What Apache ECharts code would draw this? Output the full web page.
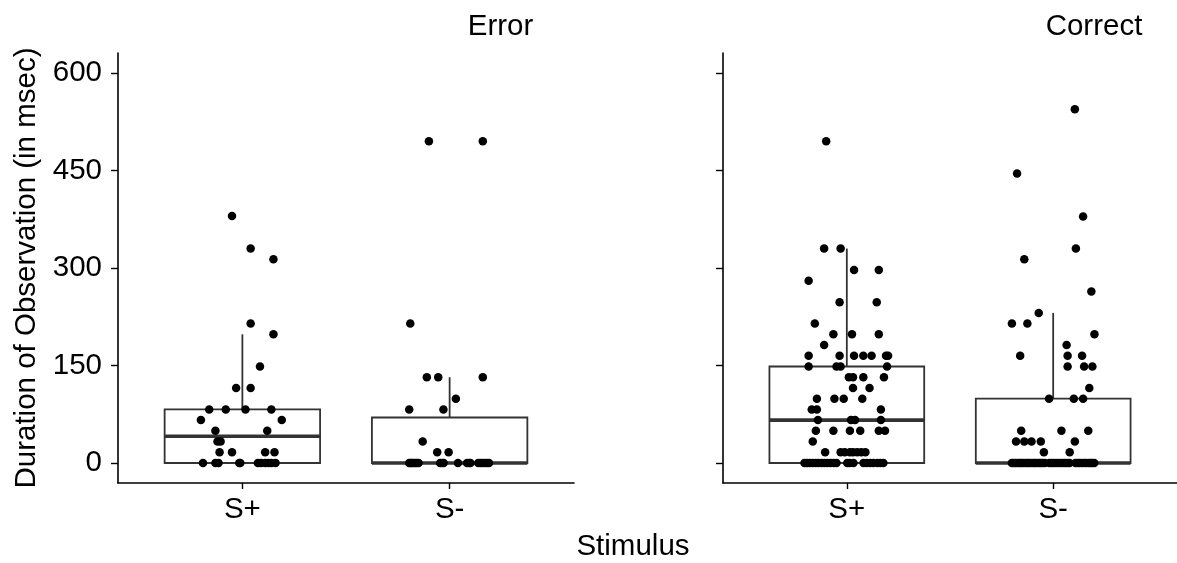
<!DOCTYPE html>
<html>
<head>
<meta charset="utf-8">
<script src="https://cdn.jsdelivr.net/npm/echarts@6/dist/echarts.min.js"></script>
<style>html,body{margin:0;padding:0;background:#fff;}#c{width:1177px;height:563px;}</style>
</head>
<body>
<div id="c"></div>
<script>
// ---- data ----
const categories = ['S+', 'S-'];
const panels = ['Error', 'Correct'];
const yTicks = [0, 150, 300, 450, 600];

// Box statistics [min, Q1, median, Q3, upper whisker]
const errorBoxStats = [[0, 0, 41.25, 82.5, 198], [0, 0, 0, 70, 132]];
const correctBoxStats = [[0, 0, 66, 148.5, 330], [0, 0, 0, 99, 231]];

// Observations (msec) and their horizontal jitter (category units)
const errorSplusValues = [380, 330, 313.5, 214.5, 198, 148.5, 115.5, 115.5, 82.5, 82.5, 82.5, 82.5, 66, 66, 49.5, 49.5, 33, 33, 16.5, 16.5, 16.5, 16.5,
  0, 0, 0, 0, 0, 0, 0, 0, 0, 0, 0];
const errorSplusJitter = [-0.05, 0.04, 0.15, 0.04, 0.15, 0.085, -0.03, 0.04, -0.16, -0.08, 0.015, 0.14, -0.2, 0.19, -0.13, 0.12, -0.12, -0.105, -0.11, -0.05, 0.11, 0.155,
  -0.19, -0.13, -0.115, -0.015, -0.01, 0.075, 0.09, 0.11, 0.125, 0.14, 0.16];

const errorSminusValues = [495, 495, 214.5, 132, 132, 132, 99, 82.5, 82.5, 33, 16.5, 16.5,
  0, 0, 0, 0, 0, 0, 0, 0, 0, 0, 0, 0, 0, 0, 0, 0, 0, 0, 0, 0];
const errorSminusJitter = [-0.1, 0.16, -0.19, -0.11, -0.055, 0.16, 0.03, -0.195, -0.03, -0.13, -0.06, -0.005,
  -0.195, -0.188, -0.182, -0.174, -0.166, -0.158, -0.15, -0.046, -0.036, -0.029, 0.04, 0.084, 0.094, 0.1, 0.138, 0.149, 0.158, 0.17, 0.181, 0.19];

const correctSplusValues = [495, 330, 330, 297, 297, 280.5, 247.5, 247.5, 214.5, 198, 198, 198, 181.5,
  165, 165, 165, 165, 165, 165, 165, 148.5, 148.5, 148.5, 148.5, 132, 132, 132, 132, 115.5, 115.5,
  99, 99, 99, 99, 82.5, 82.5, 82.5, 66, 66, 66, 66, 49.5, 49.5, 49.5, 49.5, 49.5, 49.5, 33,
  16.5, 16.5, 16.5, 16.5, 16.5, 16.5, 16.5, 16.5,
  0, 0, 0, 0, 0, 0, 0, 0, 0, 0, 0, 0, 0, 0, 0, 0, 0, 0, 0, 0, 0, 0];
const correctSplusJitter = [-0.1, -0.11, -0.03, 0.035, 0.155, -0.185, -0.035, 0.145, -0.155, -0.065, 0.025, 0.155, -0.11,
  -0.185, -0.035, 0.035, 0.08, 0.12, 0.19, 0.2, -0.185, -0.05, -0.03, 0.195, 0.01, 0.03, 0.08, 0.18, 0.03, 0.11,
  -0.145, -0.06, -0.015, 0.075, -0.17, -0.145, 0.165, -0.14, 0.02, 0.04, 0.165, -0.15, -0.065, 0.015, 0.065, 0.155, 0.185, -0.165,
  -0.105, -0.03, -0.01, 0.015, 0.03, 0.05, 0.07, 0.09,
  -0.205, -0.193, -0.18, -0.166, -0.151, -0.138, -0.122, -0.108, -0.094, -0.079, -0.064, -0.05, 0.002, 0.014, 0.032, 0.081, 0.096, 0.114, 0.128, 0.148, 0.162, 0.177];

const correctSminusValues = [544.5, 445.5, 379.5, 330, 313.5, 264, 231, 214.5, 214.5, 198, 181.5,
  165, 165, 165, 148.5, 148.5, 148.5, 115.5, 99, 99, 99, 49.5, 49.5, 49.5, 33, 33, 33, 33, 33, 16.5, 16.5,
  0, 0, 0, 0, 0, 0, 0, 0, 0, 0, 0, 0, 0, 0, 0, 0, 0, 0, 0, 0, 0, 0, 0, 0, 0, 0, 0, 0, 0, 0, 0, 0, 0, 0, 0, 0, 0, 0];
const correctSminusJitter = [0.105, -0.175, 0.145, 0.11, -0.14, 0.185, -0.07, -0.2, -0.125, 0.2, 0.065,
  -0.16, 0.07, 0.14, 0.07, 0.15, 0.19, 0.175, -0.02, 0.1, 0.145, -0.155, 0.04, 0.17, -0.18, -0.14, -0.105, -0.06, 0.105, -0.045, 0.08,
  -0.2, -0.191, -0.182, -0.171, -0.163, -0.154, -0.146, -0.134, -0.126, -0.117, -0.108, -0.098, -0.089, -0.081, -0.07, -0.061, -0.052, -0.041,
  -0.019, -0.009, 0.001, 0.013, 0.024, 0.036, 0.047, 0.058, 0.069, 0.079,
  0.108, 0.119, 0.128, 0.139, 0.151, 0.16, 0.172, 0.181, 0.19, 0.199];

// ---- build ----
const FONT = 'Liberation Sans, Arial, sans-serif';
const FS = 29.5;
const groups = [
  [[errorSplusValues, errorSplusJitter], [errorSminusValues, errorSminusJitter]],
  [[correctSplusValues, correctSplusJitter], [correctSminusValues, correctSminusJitter]]
];
const boxes = [errorBoxStats, correctBoxStats];

function pointsFor(panel) {
  const out = [];
  groups[panel].forEach((g, ci) => {
    g[0].forEach((v, i) => out.push([ci + 1 + g[1][i], v]));
  });
  return out;
}
function boxData(panel) {
  return boxes[panel].map((s, ci) => [ci + 1].concat(s));
}
function renderBox(params, api) {
  const x = api.value(0);
  const lo = api.coord([x, api.value(1)]);
  const q1 = api.coord([x, api.value(2)]);
  const med = api.coord([x, api.value(3)]);
  const q3 = api.coord([x, api.value(4)]);
  const hi = api.coord([x, api.value(5)]);
  const hw = api.size([0.75, 0])[0] / 2;
  const stroke = '#333333';
  return {
    type: 'group',
    children: [
      {type: 'line', shape: {x1: q3[0], y1: q3[1], x2: hi[0], y2: hi[1]}, style: {stroke, lineWidth: 1.8}},
      {type: 'line', shape: {x1: lo[0], y1: lo[1], x2: q1[0], y2: q1[1]}, style: {stroke, lineWidth: 1.8}},
      {type: 'rect', shape: {x: q3[0] - hw, y: q3[1], width: 2 * hw, height: q1[1] - q3[1]}, style: {fill: '#ffffff', stroke, lineWidth: 1.8}},
      {type: 'line', shape: {x1: med[0] - hw, y1: med[1], x2: med[0] + hw, y2: med[1]}, style: {stroke, lineWidth: 3.6}}
    ]
  };
}

const grids = [
  {left: 118, top: 53, width: 456, height: 430},
  {left: 723, top: 53, width: 455, height: 430}
];
const xAxes = grids.map((g, i) => ({
  type: 'value', gridIndex: i, min: 0.4, max: 2.6,
  axisLine: {show: true, onZero: false, lineStyle: {color: '#000', width: 1.6}},
  axisTick: {show: true, length: 6, lineStyle: {color: '#000', width: 1.4}, customValues: [1, 2]},
  axisLabel: {show: true, customValues: [1, 2], margin: 12, color: '#000', fontSize: FS, fontFamily: FONT,
    formatter: v => categories[Math.round(v) - 1]},
  splitLine: {show: false}
}));
const yAxes = grids.map((g, i) => ({
  type: 'value', gridIndex: i, min: -30.8, max: 631,
  name: i === 0 ? 'Duration of Observation (in msec)' : '',
  nameLocation: 'middle', nameGap: 76,
  nameTextStyle: {color: '#000', fontSize: FS, fontFamily: FONT},
  axisLine: {show: true, onZero: false, lineStyle: {color: '#000', width: 1.6}},
  axisTick: {show: true, length: 7, lineStyle: {color: '#000', width: 1.4}, customValues: yTicks},
  axisLabel: {show: i === 0, customValues: yTicks, margin: 16, color: '#000', fontSize: FS, fontFamily: FONT},
  splitLine: {show: false}
}));

const series = [];
[0, 1].forEach(p => {
  series.push({type: 'custom', xAxisIndex: p, yAxisIndex: p, renderItem: renderBox, data: boxData(p), z: 1, silent: true});
  series.push({type: 'scatter', xAxisIndex: p, yAxisIndex: p, data: pointsFor(p), symbolSize: 8.5,
    itemStyle: {color: '#000', opacity: 1}, z: 3, silent: true});
});

const chart = echarts.init(document.getElementById('c'), null, {renderer: 'canvas'});
chart.setOption({
  backgroundColor: '#fff',
  animation: false,
  grid: grids,
  xAxis: xAxes,
  yAxis: yAxes,
  series: series,
  graphic: [
    {type: 'text', x: 500.5, y: 27, style: {text: panels[0], fill: '#000', font: FS + 'px ' + FONT, textAlign: 'center', textVerticalAlign: 'middle'}},
    {type: 'text', x: 1094, y: 27, style: {text: panels[1], fill: '#000', font: FS + 'px ' + FONT, textAlign: 'center', textVerticalAlign: 'middle'}},
    {type: 'text', x: 633, y: 547, style: {text: 'Stimulus', fill: '#000', font: FS + 'px ' + FONT, textAlign: 'center', textVerticalAlign: 'middle'}}
  ]
});
</script>
</body>
</html>
